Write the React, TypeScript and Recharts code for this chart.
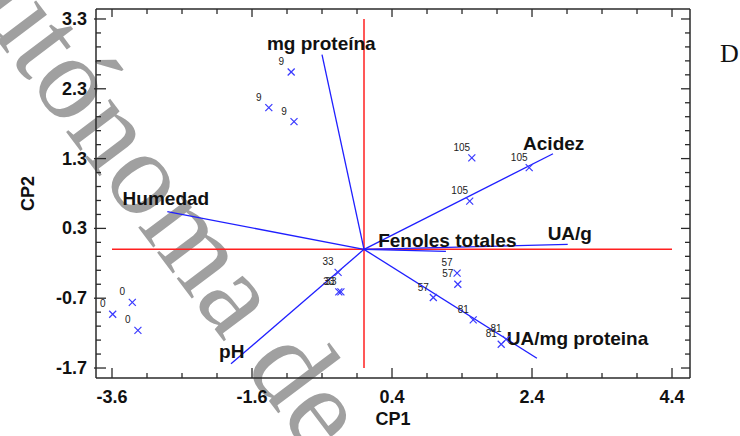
import React from 'react';
import { ScatterChart, Scatter, XAxis, YAxis, ReferenceLine, Label } from 'recharts';

// ---- axis ticks ----
const xTicks = [-3.6, -3.1, -2.6, -2.1, -1.6, -1.1, -0.6, -0.1, 0.4, 0.9, 1.4, 1.9, 2.4, 2.9, 3.4, 3.9, 4.4];
const xMajor = [-3.6, -1.6, 0.4, 2.4, 4.4];
const yTicks = [-1.7, -1.5, -1.3, -1.1, -0.9, -0.7, -0.5, -0.3, -0.1, 0.1, 0.3, 0.5, 0.7, 0.9, 1.1, 1.3, 1.5, 1.7, 1.9, 2.1, 2.3, 2.5, 2.7, 2.9, 3.1, 3.3];
const yMajor = [-1.7, -0.7, 0.3, 1.3, 2.3, 3.3];

// ---- loading vectors ----
const vectorNames = ['mg proteína', 'Humedad', 'Acidez', 'UA/g', 'Fenoles totales', 'UA/mg proteina', 'pH'];
const vectorCP1 = [-0.6, -2.81, 2.7, 2.91, 1.17, 2.47, -1.9];
const vectorCP2 = [2.79, 0.54, 1.37, 0.07, -0.03, -1.56, -1.64];
const vectorLabelCP1 = [-0.61, -2.83, 2.71, 2.94, 1.19, 3.05, -1.89];
const vectorLabelCP2 = [2.86, 0.63, 1.43, 0.13, 0.03, -1.37, -1.56];

// ---- sample scores ----
const sampleLabels = ['9', '9', '9', '105', '105', '105', '57', '57', '57', '81', '81', '81', '33', '33', '33', '0', '0', '0'];
const sampleCP1 = [-1.04, -1.36, -1.0, 1.54, 2.36, 1.51, 1.33, 1.34, 0.99, 1.56, 2.03, 1.96, -0.37, -0.36, -0.33, -3.31, -3.59, -3.23];
const sampleCP2 = [2.54, 2.03, 1.83, 1.31, 1.17, 0.69, -0.34, -0.5, -0.69, -1.01, -1.29, -1.36, -0.33, -0.61, -0.61, -0.76, -0.93, -1.16];

const W = 740;
const H = 436;
const FONT = '"Liberation Sans", Arial, sans-serif';
const AXIS = '#2a2a2a';
const BLUE = '#1f1fff';
const MARK = '#3a3aff';
const RED = '#ff2020';

const samples = sampleLabels.map((l, i) => ({ x: sampleCP1[i], y: sampleCP2[i], label: l }));
const vectorLabels = vectorNames.map((n, i) => ({ x: vectorLabelCP1[i], y: vectorLabelCP2[i], label: n }));

const isMajor = (v: number, arr: number[]) => arr.some((m) => Math.abs(m - v) < 1e-6);
const fmt = (v: number) => v.toFixed(1);

const BottomTick = (p: any) => {
  const major = isMajor(p.payload.value, xMajor);
  return (
    <g>
      <line x1={p.x} y1={p.y} x2={p.x} y2={p.y - (major ? 10 : 5)} stroke={AXIS} strokeWidth={1.3} />
      {major && (
        <text x={p.x} y={p.y + 25} textAnchor="middle" fontFamily={FONT} fontWeight="bold" fontSize={18} fill="#111">
          {fmt(p.payload.value)}
        </text>
      )}
    </g>
  );
};
const TopTick = (p: any) => {
  const major = isMajor(p.payload.value, xMajor);
  return <line x1={p.x} y1={p.y} x2={p.x} y2={p.y + (major ? 8 : 5)} stroke={AXIS} strokeWidth={1.3} />;
};
const LeftTick = (p: any) => {
  const major = isMajor(p.payload.value, yMajor);
  return (
    <g>
      <line x1={p.x - (major ? 2 : 0)} y1={p.y} x2={p.x + (major ? 10 : 5)} y2={p.y} stroke={AXIS} strokeWidth={1.3} />
      {major && (
        <text x={p.x - 9} y={p.y + 6} textAnchor="end" fontFamily={FONT} fontWeight="bold" fontSize={18} fill="#111">
          {fmt(p.payload.value)}
        </text>
      )}
    </g>
  );
};
const RightTick = (p: any) => {
  const major = isMajor(p.payload.value, yMajor);
  return <line x1={p.x} y1={p.y} x2={p.x - (major ? 9 : 5)} y2={p.y} stroke={AXIS} strokeWidth={1.3} />;
};

const SampleShape = (p: any) => {
  const { cx, cy, payload } = p;
  const s = 3.5;
  return (
    <g>
      <line x1={cx - s} y1={cy - s} x2={cx + s} y2={cy + s} stroke={MARK} strokeWidth={1.2} />
      <line x1={cx - s} y1={cy + s} x2={cx + s} y2={cy - s} stroke={MARK} strokeWidth={1.2} />
      <text x={cx - 10} y={cy - 7} textAnchor="middle" fontFamily={FONT} fontSize={10} fill="#222">
        {payload.label}
      </text>
    </g>
  );
};

const VectorLabelShape = (p: any) => (
  <text x={p.cx} y={p.cy} textAnchor="middle" fontFamily={FONT} fontWeight="bold" fontSize={19} fill="#111">
    {p.payload.label}
  </text>
);

const CP1Title = (p: any) => {
  const vb = p.viewBox || {};
  return (
    <text x={vb.x + vb.width / 2} y={vb.y + 47} textAnchor="middle" fontFamily={FONT} fontWeight="bold" fontSize={18} fill="#111">
      CP1
    </text>
  );
};
const CP2Title = (p: any) => {
  const vb = p.viewBox || {};
  const cy = vb.y + vb.height / 2;
  return (
    <text x={34} y={cy} transform={`rotate(-90 34 ${cy})`} textAnchor="middle" fontFamily={FONT} fontWeight="bold" fontSize={18} fill="#111">
      CP2
    </text>
  );
};

export default function App() {
  const xDomain = [-3.8286, 4.657];
  const yDomain = [-1.843, 3.443];
  return (
    <div style={{ position: 'absolute', left: 0, top: 0, width: W, height: H, background: '#fff', overflow: 'hidden' }}>
      <svg width={W} height={H} style={{ position: 'absolute', left: 0, top: 0 }}>
        <text
          x={-80}
          y={-62}
          transform="rotate(53 -80 -62)"
          fontFamily='"Liberation Serif", "Times New Roman", serif'
          fontSize={120}
          fill="#a0a0a0"
        >
          Autónoma de
        </text>
        <text x={720} y={62} fontFamily='"Liberation Serif", "Times New Roman", serif' fontSize={26} fill="#111">
          D
        </text>
      </svg>
      <div style={{ position: 'absolute', left: 0, top: 0 }}>
        <ScatterChart width={W} height={H} margin={{ top: 8, right: 49, bottom: 57, left: 95 }}>
          <XAxis
            xAxisId={0}
            type="number"
            dataKey="x"
            domain={xDomain}
            allowDataOverflow
            ticks={xTicks}
            interval={0}
            height={1}
            tickSize={0}
            tickMargin={0}
            tick={BottomTick}
            tickLine={false}
            axisLine={{ stroke: AXIS, strokeWidth: 1.5 }}
          >
            <Label content={CP1Title} />
          </XAxis>
          <XAxis
            xAxisId="t"
            orientation="top"
            type="number"
            dataKey="x"
            domain={xDomain}
            allowDataOverflow
            ticks={xTicks}
            interval={0}
            height={1}
            tickSize={0}
            tickMargin={0}
            tick={TopTick}
            tickLine={false}
            axisLine={{ stroke: AXIS, strokeWidth: 1.5 }}
          />
          <YAxis
            yAxisId={0}
            type="number"
            dataKey="y"
            domain={yDomain}
            allowDataOverflow
            ticks={yTicks}
            interval={0}
            width={1}
            tickSize={0}
            tickMargin={0}
            tick={LeftTick}
            tickLine={false}
            axisLine={{ stroke: AXIS, strokeWidth: 1.5 }}
          >
            <Label content={CP2Title} />
          </YAxis>
          <YAxis
            yAxisId="r"
            orientation="right"
            type="number"
            dataKey="y"
            domain={yDomain}
            allowDataOverflow
            ticks={yTicks}
            interval={0}
            width={1}
            tickSize={0}
            tickMargin={0}
            tick={RightTick}
            tickLine={false}
            axisLine={{ stroke: AXIS, strokeWidth: 1.5 }}
          />
          <ReferenceLine
            xAxisId={0}
            yAxisId={0}
            segment={[{ x: xMajor[0], y: 0 }, { x: xMajor[xMajor.length - 1], y: 0 }]}
            stroke={RED}
            strokeWidth={1.5}
          />
          <ReferenceLine
            xAxisId={0}
            yAxisId={0}
            segment={[{ x: 0, y: yMajor[0] }, { x: 0, y: yMajor[yMajor.length - 1] }]}
            stroke={RED}
            strokeWidth={1.5}
          />
          {vectorNames.map((n, i) => (
            <ReferenceLine
              key={n}
              xAxisId={0}
              yAxisId={0}
              segment={[{ x: 0, y: 0 }, { x: vectorCP1[i], y: vectorCP2[i] }]}
              stroke={BLUE}
              strokeWidth={1.3}
            />
          ))}
          <Scatter xAxisId={0} yAxisId={0} data={vectorLabels} shape={VectorLabelShape} isAnimationActive={false} />
          <Scatter xAxisId={0} yAxisId={0} data={samples} shape={SampleShape} isAnimationActive={false} />
        </ScatterChart>
      </div>
    </div>
  );
}
